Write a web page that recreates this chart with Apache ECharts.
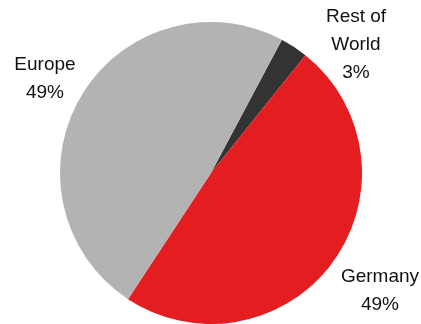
<!DOCTYPE html>
<html>
<head>
<meta charset="utf-8">
<script src="https://cdn.jsdelivr.net/npm/echarts@6/dist/echarts.min.js"></script>
<style>
html, body { margin: 0; padding: 0; background: #fff; }
#chart { width: 421px; height: 324px; }
</style>
</head>
<body>
<div id="chart"></div>
<script>
// region shares, clockwise from the top right
var regions = ['Rest of\nWorld', 'Germany', 'Europe'];
var shares = [3, 49, 49];
var colors = ['#333333', '#e41e20', '#b3b3b3'];

// where each label sits (centre of the text block)
var labelSpots = [[356, 45], [380, 291], [45, 79]];

var myChart = echarts.init(document.getElementById('chart'));

var pieData = [];
for (var i = 0; i < regions.length; i++) {
	pieData.push({ name: regions[i], value: shares[i], itemStyle: { color: colors[i] } });
}

var option = {
	animation: false,
	series: [{
		type: 'pie',
		center: [211, 173],
		radius: 151,
		startAngle: 62,
		clockwise: true,
		data: pieData,
		label: {
			show: true,
			position: 'outside',
			overflow: 'none',
			formatter: function (p) {
				return p.name + '\n' + p.value + '%';
			},
			fontFamily: 'Liberation Sans, Arial, sans-serif',
			fontSize: 19,
			lineHeight: 28,
			color: '#111',
			align: 'center'
		},
		labelLine: { show: false },
		labelLayout: function (params) {
			var s = labelSpots[params.dataIndex];
			return { x: s[0], y: s[1], align: 'center', verticalAlign: 'middle' };
		}
	}]
};

myChart.setOption(option);
</script>
</body>
</html>
